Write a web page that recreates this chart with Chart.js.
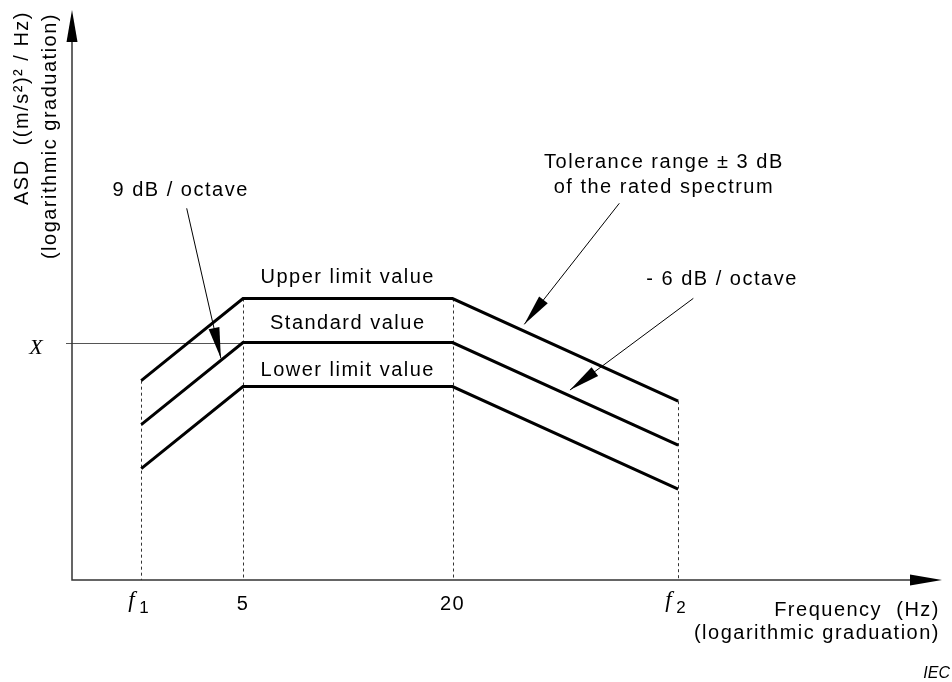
<!DOCTYPE html>
<html>
<head>
<meta charset="utf-8">
<script src="https://cdn.jsdelivr.net/npm/chart.js@4.4.1/dist/chart.umd.min.js"></script>
<style>
  html, body { margin: 0; padding: 0; background: #fff; }
  #wrap { width: 952px; height: 682px; position: relative; }
</style>
</head>
<body>
<div id="wrap"><canvas id="asd" width="952" height="682"></canvas></div>
<script>
// break frequencies (Hz): f1, 5, 20, f2
const freqs = [2.55, 5, 20, 89];
const freqTicks = [['f', '1'], ['5'], ['20'], ['f', '2']];

// ASD level in dB relative to X (the standard value)
const upperLimit = [-2.6, 3, 3, -4.0];
const standardValue = [-5.6, 0, 0, -7.0];
const lowerLimit = [-8.6, -3, -3, -10.0];
const xLevel = 0;

// axis extents
const freqMin = 1.613, freqMax = 510;
const dbMin = -16.19, dbMax = 22.67;

// in-plot notes, anchored at [freq, dB]
const notes = [
  { text: '9 dB / octave', at: [3.31, 9.99] },
  { text: 'Upper limit value', at: [10, 4.06] },
  { text: 'Standard value', at: [10, 0.92] },
  { text: 'Lower limit value', at: [10, -2.28] },
  { text: 'Tolerance range \u00b1 3 dB', at: [81, 11.9] },
  { text: 'of the rated spectrum', at: [81, 10.19] },
  { text: '- 6 dB / octave', at: [119, 3.92] }
];
// leader arrows [freq, dB] -> [freq, dB]
const arrows = [
  { from: [3.445, 9.15], to: [4.32, -1.08] },
  { from: [60.3, 9.49], to: [32.16, 1.24] },
  { from: [98.4, 3.01], to: [43.5, -3.24] }
];

const SANS = '"Liberation Sans", Arial, Helvetica, sans-serif';
const SERIF = '"Liberation Serif", "Times New Roman", serif';

function arrowHead(ctx, x0, y0, x1, y1, len, half) {
  const d = Math.hypot(x1 - x0, y1 - y0);
  const ux = (x1 - x0) / d, uy = (y1 - y0) / d;
  const bx = x1 - ux * len, by = y1 - uy * len;
  ctx.beginPath();
  ctx.moveTo(x1, y1);
  ctx.lineTo(bx - uy * half, by + ux * half);
  ctx.lineTo(bx + uy * half, by - ux * half);
  ctx.closePath();
  ctx.fill();
}

const diagram = {
  id: 'diagram',
  beforeDatasetsDraw(chart) {
    const { ctx, chartArea: a, scales: { x, y } } = chart;
    ctx.save();
    // dashed drop lines
    ctx.strokeStyle = '#333';
    ctx.lineWidth = 1;
    ctx.setLineDash([3, 3]);
    freqs.forEach((f, i) => {
      const px = Math.round(x.getPixelForValue(f)) + 0.5;
      ctx.beginPath();
      ctx.moveTo(px, y.getPixelForValue(upperLimit[i]));
      ctx.lineTo(px, a.bottom);
      ctx.stroke();
    });
    ctx.setLineDash([]);
    // X reference line
    const yx = Math.round(y.getPixelForValue(xLevel)) + 0.5;
    ctx.strokeStyle = '#555';
    ctx.beginPath();
    ctx.moveTo(a.left - 6, yx);
    ctx.lineTo(x.getPixelForValue(freqs[1]), yx);
    ctx.stroke();
    ctx.restore();
  },
  afterDatasetsDraw(chart) {
    const { ctx, chartArea: a, scales: { x, y } } = chart;
    ctx.save();
    ctx.fillStyle = '#000';

    // axes with arrow heads
    ctx.strokeStyle = '#333';
    ctx.lineWidth = 1.5;
    ctx.beginPath();
    ctx.moveTo(a.left, a.top + 20);
    ctx.lineTo(a.left, a.bottom);
    ctx.lineTo(a.right - 20, a.bottom);
    ctx.stroke();
    arrowHead(ctx, a.left, a.bottom, a.left, a.top, 32, 5.5);
    arrowHead(ctx, a.left, a.bottom, a.right, a.bottom, 32, 5.5);

    // leader arrows
    ctx.strokeStyle = '#000';
    ctx.lineWidth = 1;
    arrows.forEach(ar => {
      const x0 = x.getPixelForValue(ar.from[0]), y0 = y.getPixelForValue(ar.from[1]);
      const x1 = x.getPixelForValue(ar.to[0]), y1 = y.getPixelForValue(ar.to[1]);
      ctx.beginPath();
      ctx.moveTo(x0, y0);
      ctx.lineTo(x1, y1);
      ctx.stroke();
      arrowHead(ctx, x0, y0, x1, y1, 31, 5.5);
    });

    // notes
    ctx.font = '20px ' + SANS;
    ctx.letterSpacing = '1.5px';
    ctx.textAlign = 'center';
    ctx.textBaseline = 'alphabetic';
    notes.forEach(n => {
      ctx.fillText(n.text, x.getPixelForValue(n.at[0]), y.getPixelForValue(n.at[1]));
    });

    // tick labels
    freqTicks.forEach((t, i) => {
      const px = x.getPixelForValue(freqs[i]);
      if (t.length === 1) {
        ctx.font = '20px ' + SANS;
        ctx.textAlign = 'center';
        ctx.fillText(t[0], px, a.bottom + 30);
      } else {
        ctx.letterSpacing = '0px';
        ctx.textAlign = 'left';
        ctx.font = 'italic 23px ' + SERIF;
        ctx.fillText(t[0], px - 13, a.bottom + 27);
        ctx.font = '17px ' + SANS;
        ctx.fillText(t[1], px - 2, a.bottom + 33);
        ctx.letterSpacing = '1.5px';
      }
    });

    // X marker
    ctx.letterSpacing = '0px';
    ctx.font = 'italic 22px ' + SERIF;
    ctx.textAlign = 'center';
    ctx.fillText('X', 36, y.getPixelForValue(xLevel) + 11);

    // axis titles
    ctx.letterSpacing = '1.5px';
    ctx.font = '20px ' + SANS;
    ctx.textAlign = 'right';
    ctx.fillText('Frequency  (Hz)', 940, a.bottom + 36);
    ctx.fillText('(logarithmic graduation)', 940, a.bottom + 59);

    ctx.save();
    ctx.translate(28, 11);
    ctx.rotate(-Math.PI / 2);
    ctx.fillText('ASD  ((m/s\u00b2)\u00b2 / Hz)', 0, 0);
    ctx.restore();
    ctx.save();
    ctx.translate(56, 13);
    ctx.rotate(-Math.PI / 2);
    ctx.fillText('(logarithmic graduation)', 0, 0);
    ctx.restore();

    ctx.letterSpacing = '0px';
    ctx.font = 'italic 16px ' + SANS;
    ctx.fillText('IEC', 950, 678);
    ctx.restore();
  }
};

const lineStyle = {
  borderColor: '#000',
  borderWidth: 3,
  pointRadius: 0,
  tension: 0,
  borderCapStyle: 'butt',
  borderJoinStyle: 'miter',
  fill: false
};

new Chart(document.getElementById('asd').getContext('2d'), {
  type: 'line',
  data: {
    datasets: [
      { label: 'Upper limit value', data: freqs.map((f, i) => ({ x: f, y: upperLimit[i] })), ...lineStyle },
      { label: 'Standard value', data: freqs.map((f, i) => ({ x: f, y: standardValue[i] })), ...lineStyle },
      { label: 'Lower limit value', data: freqs.map((f, i) => ({ x: f, y: lowerLimit[i] })), ...lineStyle }
    ]
  },
  options: {
    responsive: false,
    animation: false,
    layout: { padding: { left: 72, right: 10, top: 10, bottom: 102 } },
    plugins: {
      legend: { display: false },
      tooltip: { enabled: false }
    },
    scales: {
      x: { type: 'logarithmic', min: freqMin, max: freqMax, display: false },
      y: { type: 'linear', min: dbMin, max: dbMax, display: false }
    }
  },
  plugins: [diagram]
});
</script>
</body>
</html>
